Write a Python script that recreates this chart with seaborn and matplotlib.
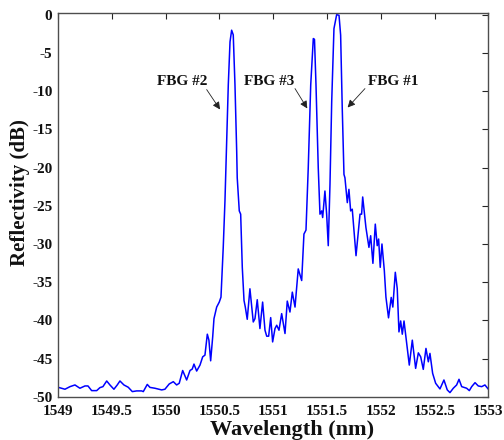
import matplotlib
matplotlib.use("Agg")
import matplotlib.pyplot as plt
import pandas as pd
import seaborn as sns

# Reflection spectrum of the three-grating array
wavelength_nm = [
    1549.000, 1549.037, 1549.065, 1549.112, 1549.158, 1549.204, 1549.251, 1549.279,
    1549.313, 1549.360, 1549.390, 1549.418, 1549.453, 1549.483, 1549.520, 1549.551,
    1549.576, 1549.613, 1549.653, 1549.691, 1549.731, 1549.778, 1549.793, 1549.830,
    1549.855, 1549.901, 1549.964, 1549.994, 1550.034, 1550.072, 1550.103, 1550.127,
    1550.159, 1550.196, 1550.227, 1550.248, 1550.264, 1550.289, 1550.320, 1550.345,
    1550.366, 1550.388, 1550.403, 1550.419, 1550.438, 1550.450, 1550.475, 1550.499,
    1550.515, 1550.531, 1550.536, 1550.552, 1550.568, 1550.583, 1550.599, 1550.614,
    1550.629, 1550.645, 1550.661, 1550.666, 1550.685, 1550.698, 1550.713, 1550.729,
    1550.741, 1550.759, 1550.784, 1550.815, 1550.831, 1550.852, 1550.877, 1550.902,
    1550.924, 1550.940, 1550.958, 1550.977, 1550.995, 1551.017, 1551.033, 1551.054,
    1551.079, 1551.110, 1551.131, 1551.156, 1551.178, 1551.203, 1551.233, 1551.265,
    1551.286, 1551.305, 1551.326, 1551.349, 1551.373, 1551.384, 1551.398, 1551.419,
    1551.435, 1551.451, 1551.460, 1551.481, 1551.497, 1551.512, 1551.528, 1551.544,
    1551.565, 1551.590, 1551.612, 1551.627, 1551.642, 1551.658, 1551.667, 1551.689,
    1551.704, 1551.720, 1551.735, 1551.770, 1551.807, 1551.822, 1551.832, 1551.862,
    1551.890, 1551.906, 1551.927, 1551.949, 1551.967, 1551.980, 1551.995, 1552.011,
    1552.033, 1552.048, 1552.072, 1552.097, 1552.112, 1552.135, 1552.153, 1552.169,
    1552.185, 1552.200, 1552.216, 1552.241, 1552.265, 1552.293, 1552.324, 1552.349,
    1552.371, 1552.395, 1552.420, 1552.442, 1552.457, 1552.482, 1552.510, 1552.550,
    1552.587, 1552.618, 1552.643, 1552.674, 1552.705, 1552.727, 1552.752, 1552.798,
    1552.823, 1552.845, 1552.876, 1552.906, 1552.938, 1552.968, 1553.000,
]

reflectivity_db = [
    -48.74, -48.89, -49.00, -48.66, -48.44, -48.87, -48.57, -48.57,
    -49.18, -49.18, -48.79, -48.66, -47.92, -48.44, -49.00, -48.44,
    -47.92, -48.44, -48.74, -49.31, -49.22, -49.22, -49.31, -48.37,
    -48.76, -48.87, -49.09, -49.00, -48.31, -48.01, -48.44, -48.22,
    -46.55, -47.79, -46.55, -46.36, -45.71, -46.62, -45.84, -44.76,
    -44.54, -41.80, -42.58, -45.28, -42.15, -39.76, -38.25, -37.60,
    -36.95, -32.18, -30.44, -24.37, -16.56, -9.15, -3.55, -2.03,
    -2.64, -9.15, -17.86, -21.34, -25.67, -26.10, -33.05, -37.38,
    -38.25, -39.85, -35.86, -40.20, -39.76, -37.29, -41.06, -37.60,
    -41.28, -42.06, -42.06, -39.63, -42.81, -41.06, -40.63, -41.28,
    -39.11, -41.71, -37.47, -38.90, -36.30, -38.25, -33.26, -34.78,
    -28.70, -28.18, -20.04, -9.19, -3.12, -3.23, -9.19, -20.04,
    -26.10, -25.67, -26.54, -23.07, -26.10, -30.22, -22.20, -11.36,
    -1.82, 0.00, -0.08, -2.68, -12.23, -20.90, -21.34, -24.59,
    -22.85, -25.67, -25.45, -31.53, -26.10, -26.10, -23.85, -27.84,
    -30.44, -28.92, -32.53, -27.40, -30.22, -29.35, -33.05, -30.00,
    -33.48, -36.95, -39.66, -36.99, -38.25, -33.70, -35.82, -41.50,
    -40.07, -41.80, -40.07, -43.01, -45.84, -42.58, -46.27, -44.24,
    -44.76, -46.40, -43.66, -45.41, -44.31, -46.92, -48.22, -48.96,
    -47.79, -49.09, -49.44, -48.87, -48.44, -47.70, -48.66, -48.87,
    -49.18, -48.66, -48.14, -48.57, -48.66, -48.44, -49.00,
]

x_ticks = [1549, 1549.5, 1550, 1550.5, 1551, 1551.5, 1552, 1552.5, 1553]
x_tick_labels = ["1549", "1549.5", "1550", "1550.5", "1551", "1551.5", "1552", "1552.5", "1553"]
y_ticks = [0, -5, -10, -15, -20, -25, -30, -35, -40, -45, -50]
y_tick_labels = ["0", "-5", "-10", "-15", "-20", "-25", "-30", "-35", "-40", "-45", "-50"]

grating_names = ["FBG #2", "FBG #3", "FBG #1"]
grating_label_wl = [1550.157, 1550.961, 1552.113]
grating_label_db = [-8.76, -8.76, -8.76]
grating_arrow_wl = [1550.506, 1551.317, 1551.692]
grating_arrow_db = [-12.40, -12.27, -12.14]

sns.set_style("white")
plt.rcParams["font.family"] = ["Liberation Serif", "DejaVu Serif"]
plt.rcParams["font.weight"] = "bold"

df = pd.DataFrame({"Wavelength": wavelength_nm, "Reflectivity": reflectivity_db})

fig = plt.figure(figsize=(5.04, 4.40), dpi=100)
ax = fig.add_axes([0.115, 0.098, 0.854, 0.873])

sns.lineplot(data=df, x="Wavelength", y="Reflectivity", ax=ax, sort=False,
             estimator=None, color="#0000ff", linewidth=1.1)

ax.set_xlim(1549, 1553)
ax.set_ylim(-50, 0.25)
ax.set_xticks(x_ticks)
ax.set_xticklabels(x_tick_labels)
ax.set_yticks(y_ticks)
ax.set_yticklabels(y_tick_labels)
ax.tick_params(direction="in", length=4, width=0.8, colors="#262626",
               top=True, right=True, labelsize=11)
ax.tick_params(axis="x", pad=6)
ax.tick_params(axis="y", pad=4)
for lab in ax.get_xticklabels() + ax.get_yticklabels():
    lab.set_fontweight("bold")
    lab.set_color("#111111")
for sp in ax.spines.values():
    sp.set_visible(True)
    sp.set_color("#4d4d4d")
    sp.set_linewidth(1.0)

ax.set_xlabel("")
ax.set_ylabel("")
fig.text(292 / 504, 1 - 435 / 440, "Wavelength (nm)", ha="center", va="baseline",
         fontsize=16, fontweight="bold", color="#111111")
fig.text(20 / 504, 1 - 193 / 440, "Reflectivity (dB)", ha="center", va="center",
         rotation=90, fontsize=15, fontweight="bold", color="#111111")

for name, lx, ly in zip(grating_names, grating_label_wl, grating_label_db):
    ax.text(lx, ly, name, ha="center", va="center", fontsize=11, fontweight="bold",
            color="#111111")

# arrows run from just below each label towards its peak
arrow_starts = [(1550.382, -9.80), (1551.203, -9.67), (1551.853, -9.67)]
for (sx, sy), tx, ty in zip(arrow_starts, grating_arrow_wl, grating_arrow_db):
    ax.annotate("", xy=(tx, ty), xytext=(sx, sy),
                arrowprops=dict(arrowstyle="-|>", color="#222222", lw=0.6,
                                mutation_scale=11, shrinkA=0, shrinkB=0))

fig.savefig("out.png", dpi=100)
